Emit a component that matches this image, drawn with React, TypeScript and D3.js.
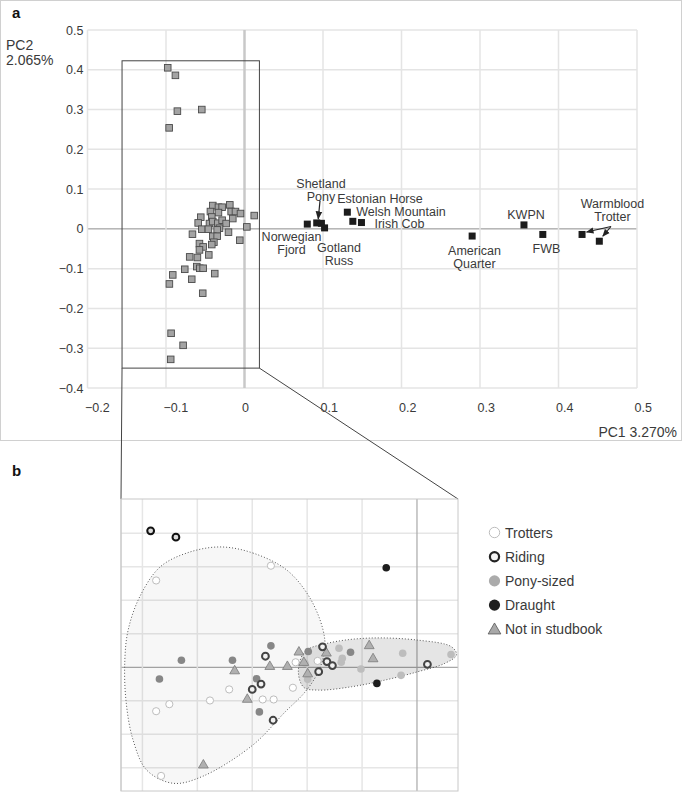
import React from "react";
import * as d3 from "d3";

// ---------- Panel a data ----------
const grayX = [-0.0978,-0.088,-0.0855,-0.0544,-0.096,-0.0404,-0.0434,-0.0332,-0.0285,-0.0187,-0.017,-0.0115,-0.0051,0.0124,-0.0332,-0.0417,-0.0557,-0.059,-0.0446,-0.0404,-0.034,-0.0285,-0.0234,-0.0149,-0.0319,-0.0544,-0.046,-0.0348,-0.0204,0.003,-0.0663,-0.0404,-0.0348,-0.006,-0.0574,-0.0527,-0.0574,-0.039,-0.0417,-0.0455,-0.0698,-0.06,-0.0761,-0.0608,-0.057,-0.0527,-0.0914,-0.0672,-0.0379,-0.0957,-0.0532,-0.0935,-0.0782,-0.094];
const grayY = [0.405,0.386,0.296,0.3,0.254,0.0587,0.0436,0.0545,0.0545,0.0604,0.0436,0.0436,0.0386,0.0335,0.041,0.03,0.0294,0.015,0.0134,0.0184,0.0143,0.0218,0.0134,0.026,0.0017,-0.0008,-0.0008,-0.0025,-0.0084,0.005,-0.0134,-0.0185,-0.0185,-0.0285,-0.037,-0.0453,-0.0528,-0.0335,-0.0394,-0.0654,-0.0704,-0.072,-0.1015,-0.0948,-0.099,-0.099,-0.1157,-0.1266,-0.1124,-0.1384,-0.1618,-0.2624,-0.2927,-0.328];

const breedNames = ["Norwegian Fjord","Shetland Pony","Shetland 2","Gotland Russ","Estonian Horse","Welsh Mountain","Irish Cob","American Quarter","KWPN","FWB","Warmblood","Trotter"];
const breedX = [0.080,0.092,0.098,0.102,0.131,0.138,0.149,0.290,0.356,0.380,0.430,0.452];
const breedY = [0.012,0.015,0.014,0.0025,0.042,0.019,0.016,-0.018,0.010,-0.014,-0.014,-0.031];

const xTicksA = [-0.2,-0.1,0,0.1,0.2,0.3,0.4,0.5];
const yTicksA = [-0.4,-0.3,-0.2,-0.1,0,0.1,0.2,0.3,0.4,0.5];
const zoomBoxX = [-0.156, 0.019];
const zoomBoxY = [-0.35, 0.4226];

// ---------- Panel b data ----------
const ridingX = [-4.85,-4.39,-2.76,-1.72,-1.64,-1.54,-1.79,-2.84,-3.00,-2.62,0.19];
const ridingY = [4.07,3.88,0.33,0.61,0.17,0.05,-0.13,-0.50,-0.66,-1.58,0.09];
const trotX = [-4.75,-2.66,-3.42,-3.77,-4.51,-4.75,-2.81,-2.61,-4.66,-2.21,-1.81,-2.26];
const trotY = [2.59,3.03,-0.66,-0.99,-1.10,-1.31,-0.96,-0.96,-3.24,0.15,0.19,-0.61];
const ponyX = [-1.42,-1.36,-1.38,-1.02,-0.26,-0.29,0.62,-1.99,-2.04];
const ponyY = [0.57,0.27,0.15,-0.05,0.42,-0.24,0.38,-0.36,0.12];
const ponyDarkX = [-2.66,-4.29,-3.36,-4.69,-2.92,-2.87,-1.98,-1.21];
const ponyDarkY = [0.64,0.21,0.21,-0.35,-0.34,-1.33,0.47,0.45];
const draughtX = [-0.56,-0.73];
const draughtY = [2.97,-0.48];
const triX = [-2.68,-3.32,-2.36,-3.09,-3.89,-2.15,-2.06,-1.99,-1.65,-0.87,-0.80];
const triY = [0.02,-0.11,0.02,-0.96,-2.92,0.45,0.14,-0.20,0.42,0.64,0.25];

const blobX = [-3.59,-2.99,-2.37,-1.95,-1.71,-1.68,-1.80,-2.04,-2.40,-2.99,-3.90,-4.44,-4.92,-5.17,-5.30,-5.32,-5.26,-5.05,-4.68,-4.19];
const blobY = [3.59,3.41,2.90,2.07,1.11,0.52,-0.14,-0.74,-1.33,-2.32,-3.25,-3.46,-3.07,-2.17,-0.98,0.22,1.11,2.10,2.99,3.41];
const ellX = [-2.16,-2.04,-1.62,-0.89,0.02,0.63,0.72,0.51,0.02,-0.58,-1.19,-1.80,-2.06];
const ellY = [-0.13,0.47,0.72,0.87,0.81,0.61,0.37,0.12,-0.13,-0.38,-0.58,-0.68,-0.60];

const xTicksB = [-5,-4,-3,-2,-1,0];
const yTicksB = [-3,-2,-1,0,1,2,3,4];
const legendLabels = ["Trotters","Riding","Pony-sized","Draught","Not in studbook"];

const FONT = "'Liberation Sans', Arial, sans-serif";
const TXT = "#3a3a3a";

// label layout (pixel positions of text centers)
const labelLayout: { lines: string[]; x: number; y: number }[] = [
  { lines: ["Shetland", "Pony"], x: 321, y: 183.5 },
  { lines: ["Estonian Horse"], x: 380, y: 198.5 },
  { lines: ["Welsh Mountain"], x: 401, y: 211 },
  { lines: ["Irish Cob"], x: 399.5, y: 223.5 },
  { lines: ["Norwegian", "Fjord"], x: 291.5, y: 236.5 },
  { lines: ["Gotland", "Russ"], x: 339, y: 247.5 },
  { lines: ["American", "Quarter"], x: 474.5, y: 250.5 },
  { lines: ["KWPN"], x: 526, y: 214.5 },
  { lines: ["FWB"], x: 546.5, y: 248.5 },
  { lines: ["Warmblood", "Trotter"], x: 612.5, y: 203.5 },
];

export default function App() {
  const xA = d3.scaleLinear().domain([-0.2, 0.5]).range([87.5, 637]);
  const yA = d3.scaleLinear().domain([-0.4, 0.5]).range([388, 30]);
  const xB = d3.scaleLinear().domain([-5.39, 0.747]).range([121, 458]);
  const yB = d3.scaleLinear().domain([-3.69, 5.02]).range([791, 499]);

  const blobPath = d3.line<number>().x((i) => xB(blobX[i])).y((i) => yB(blobY[i])).curve(d3.curveCatmullRomClosed.alpha(0.5))(blobX.map((_, i) => i));
  const ellPath = d3.line<number>().x((i) => xB(ellX[i])).y((i) => yB(ellY[i])).curve(d3.curveCatmullRomClosed.alpha(0.5))(ellX.map((_, i) => i));
  const tri = d3.symbol(d3.symbolTriangle, 42)();

  const bx0 = xB.range()[0], bx1 = xB.range()[1], by0 = yB.range()[1], by1 = yB.range()[0];

  return (
    <svg width={685} height={792} style={{ position: "absolute", left: 0, top: 0, fontFamily: FONT }}>
      <defs>
        <marker id="arr" viewBox="0 0 10 10" refX="9" refY="5" markerWidth="7" markerHeight="7" orient="auto-start-reverse">
          <path d="M0,1 L10,5 L0,9 z" fill="#222" />
        </marker>
        <clipPath id="clipB"><rect x={bx0} y={by0} width={bx1 - bx0} height={by1 - by0} /></clipPath>
      </defs>
      <rect x={0} y={0} width={685} height={792} fill="#fff" />
      {/* Panel a frame */}
      <rect x={0.5} y={0.5} width={681} height={440} fill="none" stroke="#d0d0d0" />
      <text x={12} y={18} fontSize={15} fontWeight="bold" fill="#111">a</text>
      <text x={6} y={50} fontSize={14} fill={TXT}>PC2</text>
      <text x={6} y={65} fontSize={14} fill={TXT}>2.065%</text>
      <text x={677} y={437} fontSize={14} fill={TXT} textAnchor="end">PC1 3.270%</text>

      {/* grid a */}
      {yTicksA.map((t) => (
        <line key={"gy" + t} x1={xA(-0.2)} x2={xA(0.5)} y1={yA(t)} y2={yA(t)} stroke={t === 0 ? "#8c8c8c" : "#e4e4e4"} strokeWidth={t === 0 ? 1 : 1.5} />
      ))}
      {xTicksA.map((t) => (
        <line key={"gx" + t} x1={xA(t)} x2={xA(t)} y1={yA(0.5)} y2={yA(-0.4)} stroke={t === 0 ? "#c8c8c8" : "#e4e4e4"} strokeWidth={t === 0 ? 2.5 : 1.5} />
      ))}
      {yTicksA.map((t) => (
        <text key={"ly" + t} x={83.5} y={yA(t) + 4.5} fontSize={12.5} fill={TXT} textAnchor="end">{d3.format("")(+t.toFixed(1))}</text>
      ))}
      {xTicksA.map((t) => (
        <text key={"lx" + t} x={xA(t) - 2.5} y={411.5} fontSize={12.5} fill={TXT}>{d3.format("")(+t.toFixed(1))}</text>
      ))}

      {/* zoom box and connectors */}
      <rect x={xA(zoomBoxX[0])} y={yA(zoomBoxY[1])} width={xA(zoomBoxX[1]) - xA(zoomBoxX[0])} height={yA(zoomBoxY[0]) - yA(zoomBoxY[1])} fill="none" stroke="#444" strokeWidth={1} />
      <line x1={xA(zoomBoxX[0])} y1={yA(zoomBoxY[0])} x2={bx0} y2={by0} stroke="#444" />
      <line x1={xA(zoomBoxX[1])} y1={yA(zoomBoxY[0])} x2={bx1} y2={by0} stroke="#444" />

      {/* gray squares */}
      {grayX.map((v, i) => (
        <rect key={"g" + i} x={xA(v) - 3.3} y={yA(grayY[i]) - 3.3} width={6.6} height={6.6} fill="#a3a3a3" stroke="#4a4a4a" strokeWidth={0.9} />
      ))}
      {/* breed squares */}
      {breedX.map((v, i) => (
        <rect key={"b" + i} x={xA(v) - 3.5} y={yA(breedY[i]) - 3.5} width={7} height={7} fill="#1c1c1c" />
      ))}
      {labelLayout.map((l, i) =>
        l.lines.map((s, j) => (
          <text key={"lab" + i + j} x={l.x} y={l.y + 4.5 + j * 13.3} fontSize={12.5} fill={TXT} textAnchor="middle">{s}</text>
        ))
      )}
      {/* arrows */}
      <line x1={320} y1={201} x2={xA(breedX[1]) + 1.5} y2={yA(breedY[1]) - 4} stroke="#222" strokeWidth={1.2} markerEnd="url(#arr)" />
      <line x1={611} y1={226.5} x2={xA(breedX[10]) + 4.5} y2={yA(breedY[10]) - 2.5} stroke="#222" strokeWidth={1.1} markerEnd="url(#arr)" />
      <line x1={611} y1={226.5} x2={xA(breedX[11]) + 3.5} y2={yA(breedY[11]) - 5} stroke="#222" strokeWidth={1.1} markerEnd="url(#arr)" />

      {/* Panel b */}
      <text x={12} y={476} fontSize={15} fontWeight="bold" fill="#111">b</text>
      <g clipPath="url(#clipB)">
        {yTicksB.map((t) => (
          <line key={"bgy" + t} x1={bx0} x2={bx1} y1={yB(t)} y2={yB(t)} stroke={t === 0 ? "#a8a8a8" : "#e6e6e6"} strokeWidth={t === 0 ? 1.2 : 1.5} />
        ))}
        {xTicksB.map((t) => (
          <line key={"bgx" + t} x1={xB(t)} x2={xB(t)} y1={by0} y2={by1} stroke={t === 0 ? "#a8a8a8" : "#e6e6e6"} strokeWidth={t === 0 ? 1.2 : 1.5} />
        ))}
        <path d={blobPath || ""} fill="rgba(0,0,0,0.03)" stroke="#555" strokeWidth={1} strokeDasharray="1 2" />
        <path d={ellPath || ""} fill="rgba(0,0,0,0.1)" stroke="#555" strokeWidth={1} strokeDasharray="1 2" />
        {trotX.map((v, i) => (
          <circle key={"t" + i} cx={xB(v)} cy={yB(trotY[i])} r={3.6} fill="#fff" stroke="#bdbdbd" strokeWidth={1} />
        ))}
        {ponyDarkX.map((v, i) => (
          <circle key={"pd" + i} cx={xB(v)} cy={yB(ponyDarkY[i])} r={3.8} fill="#878787" />
        ))}
        {ponyX.map((v, i) => (
          <circle key={"p" + i} cx={xB(v)} cy={yB(ponyY[i])} r={3.8} fill="#bdbdbd" />
        ))}
        {triX.map((v, i) => (
          <path key={"tr" + i} d={tri || ""} transform={`translate(${xB(v)},${yB(triY[i])})`} fill="#b0b0b0" stroke="#7a7a7a" strokeWidth={0.8} />
        ))}
        {ridingX.map((v, i) => (
          <circle key={"r" + i} cx={xB(v)} cy={yB(ridingY[i])} r={3.4} fill={i < 2 ? "#dcdcdc" : "#f2f2f2"} stroke={i < 2 ? "#111" : "#444"} strokeWidth={2} />
        ))}
        {draughtX.map((v, i) => (
          <circle key={"d" + i} cx={xB(v)} cy={yB(draughtY[i])} r={3.8} fill="#1e1e1e" />
        ))}
      </g>
      <rect x={bx0} y={by0} width={bx1 - bx0} height={by1 - by0} fill="none" stroke="#c8c8c8" />
      <line x1={bx0} y1={by0} x2={bx0} y2={by1} stroke="#c8c8c8" />

      {/* legend */}
      {legendLabels.map((s, i) => {
        const cy = 532.5 + i * 24.2;
        const cx = 494.5;
        let sym: React.ReactNode = null;
        if (i === 0) sym = <circle cx={cx} cy={cy} r={5.2} fill="#fff" stroke="#bdbdbd" strokeWidth={1} />;
        if (i === 1) sym = <circle cx={cx} cy={cy} r={4.6} fill="#f4f4f4" stroke="#222" strokeWidth={2.2} />;
        if (i === 2) sym = <circle cx={cx} cy={cy} r={5.6} fill="#ababab" />;
        if (i === 3) sym = <circle cx={cx} cy={cy} r={5.6} fill="#1e1e1e" />;
        if (i === 4) sym = <path d={d3.symbol(d3.symbolTriangle, 70)() || ""} transform={`translate(${cx},${cy + 1})`} fill="#a8a8a8" stroke="#555" strokeWidth={0.8} />;
        return (
          <g key={"lg" + i}>
            {sym}
            <text x={505} y={cy + 5} fontSize={14} fill={TXT}>{s}</text>
          </g>
        );
      })}
    </svg>
  );
}
